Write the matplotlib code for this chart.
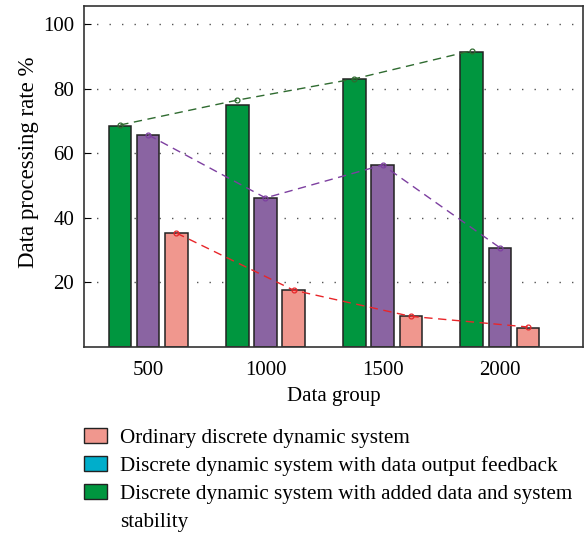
import numpy as np
import matplotlib
matplotlib.use("Agg")
import matplotlib.pyplot as plt
from matplotlib.patches import Patch

# ---- data ------------------------------------------------------------------
groups = ["500", "1000", "1500", "2000"]
stability = [68.4, 74.8, 83.0, 91.4]      # green bars
feedback = [65.5, 46.0, 56.2, 30.7]       # purple bars
ordinary = [35.1, 17.5, 9.4, 5.9]         # pink bars
stability_trend = [68.7, 76.4, 83.0, 91.7]
feedback_trend = [65.6, 46.1, 56.3, 30.7]
ordinary_trend = [35.2, 17.5, 9.4, 6.1]

labels = ["Ordinary discrete dynamic system",
          "Discrete dynamic system with data output feedback",
          "Discrete dynamic system with added data and system",
          "stability"]

GREEN, PURPLE, PINK, BLUE = "#00963F", "#8A64A2", "#F0978E", "#00AECB"
EDGE = "#222222"

plt.rcParams.update({"font.family": ["Liberation Serif", "DejaVu Serif"],
                     "font.size": 15})

fig = plt.figure(figsize=(5.87, 5.35), dpi=100)
ax = fig.add_axes([0.143, 0.352, 0.850, 0.637])

x = np.arange(len(groups))
w, off = 0.19, 0.24
ax.bar(x - off, stability, w, color=GREEN, edgecolor=EDGE, linewidth=1.1, zorder=2)
ax.bar(x, feedback, w, color=PURPLE, edgecolor=EDGE, linewidth=1.1, zorder=2)
ax.bar(x + off, ordinary, w, color=PINK, edgecolor=EDGE, linewidth=1.1, zorder=2)

for xs, ys, c in [(x - off, stability_trend, "#2F6B30"),
                  (x, feedback_trend, "#7D3FA0"),
                  (x + off, ordinary_trend, "#E8262A")]:
    ax.plot(xs, ys, ls=(0, (6, 4)), lw=1.0, color=c, marker="o", ms=3.5,
            mfc="none", mec=c, mew=0.9, zorder=3)

ax.set_xlim(-0.55, 3.71)
ax.set_ylim(0, 105.6)
ax.set_xticks(x)
ax.set_xticklabels(groups)
ax.set_yticks([20, 40, 60, 80, 100])
ax.tick_params(axis="x", length=0, pad=10)
ax.tick_params(axis="y", direction="in", length=5, pad=7)
ax.yaxis.grid(True, ls=(0, (1, 8)), color="#555555", lw=1.0)
ax.set_axisbelow(True)
for sp in ax.spines.values():
    sp.set_color("#333333")
    sp.set_linewidth(1.2)

ax.set_xlabel("Data group", labelpad=5)
ax.set_ylabel("Data processing rate %", fontsize=16.5)
ax.yaxis.set_label_coords(-0.09, 0.54)

handles = [Patch(facecolor=PINK, edgecolor=EDGE, lw=1.0),
           Patch(facecolor=BLUE, edgecolor=EDGE, lw=1.0),
           Patch(facecolor=GREEN, edgecolor=EDGE, lw=1.0),
           Patch(facecolor="none", edgecolor="none")]
fig.legend(handles=handles, labels=labels, loc="upper left",
           bbox_to_anchor=(0.143, 0.200), frameon=False, fontsize=15.2,
           handlelength=1.1, handleheight=0.7, handletextpad=0.6,
           labelspacing=0.39, borderaxespad=0, borderpad=0)

fig.savefig("out.png", dpi=100, facecolor="white")
